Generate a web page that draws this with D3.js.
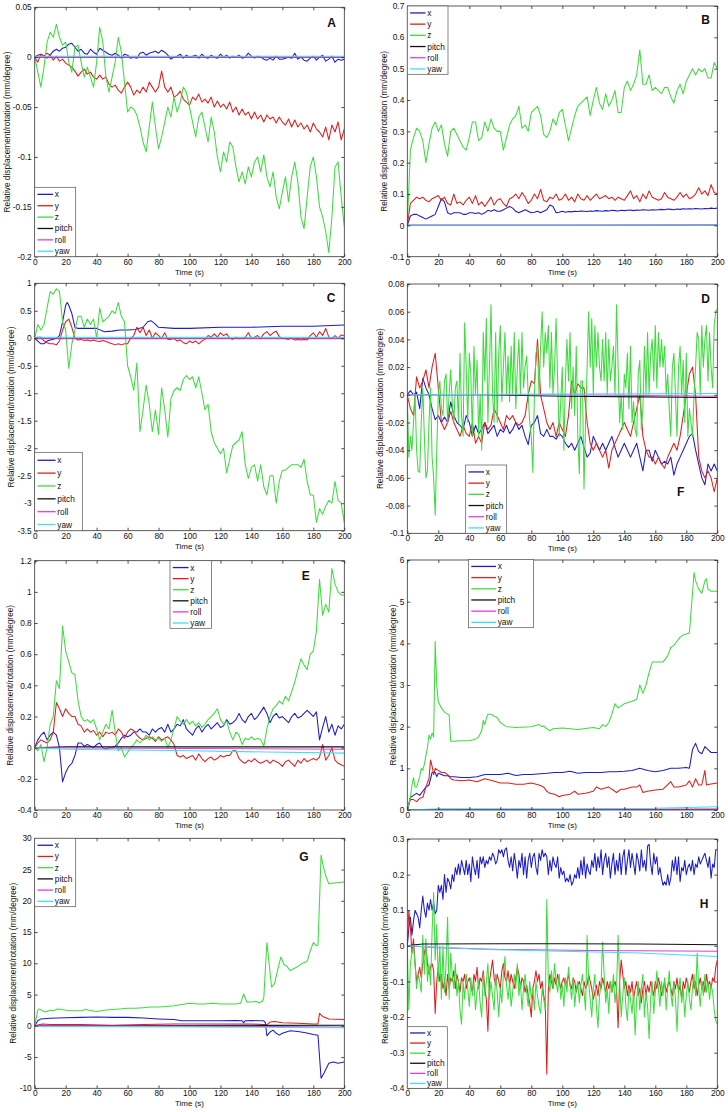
<!DOCTYPE html>
<html><head><meta charset="utf-8">
<script src="https://cdn.jsdelivr.net/npm/d3@7"></script>
<style>
body{margin:0;background:#fff}
svg{display:block}
text{font-family:"Liberation Sans",Arial,sans-serif;fill:#111}
</style>
</head><body>
<svg id="chart" width="728" height="1112"></svg>
<script>
// ---------------- DATA ----------------
// Arrays of plain numbers are equally spaced samples over 0..200 s.
// Arrays of [t, v] pairs give explicit times.
const seriesNames = ["x","y","z","pitch","roll","yaw"];
const xTicks = [0,20,40,60,80,100,120,140,160,180,200];

const yTicksA = [0.05,0,-0.05,-0.1,-0.15,-0.2];
const yTicksB = [0.7,0.6,0.5,0.4,0.3,0.2,0.1,0,-0.1];
const yTicksC = [1,0.5,0,-0.5,-1,-1.5,-2,-2.5,-3,-3.5];
const yTicksD = [0.08,0.06,0.04,0.02,0,-0.02,-0.04,-0.06,-0.08,-0.1];
const yTicksE = [1.2,1,0.8,0.6,0.4,0.2,0,-0.2,-0.4];
const yTicksF = [6,5,4,3,2,1,0];
const yTicksG = [30,25,20,15,10,5,0,-5,-10];
const yTicksH = [0.3,0.2,0.1,0,-0.1,-0.2,-0.3,-0.4];

// Panel A
const A_x = [0,0.002,0.003,0.001,-0.001,0.002,0.006,0.008,0.006,0.009,
0.01,0.013,0.014,0.01,0.006,0.008,0.004,0.003,0.008,0.005,
0.003,0.009,0.007,0.005,0.003,0.002,0.004,0.002,-0.001,0.003,
0.002,-0.001,0,-0.001,0.004,0.005,0.002,0.004,0.005,0.006,
0.004,0.007,0.005,0.002,-0.002,0,0.001,0.003,-0.001,0.002,
0,0.001,0.002,-0.001,0.003,0,-0.001,0.002,0,-0.001,
0.003,0,0.002,-0.001,0.001,0,0.002,-0.001,0,0.004,
0.001,-0.001,0.001,0,-0.002,-0.003,-0.001,-0.003,0.001,-0.002,
-0.002,-0.001,0,-0.001,0.004,-0.002,0,-0.003,-0.004,-0.001,
0.001,-0.003,0,0.002,-0.004,-0.002,0.001,-0.005,-0.002,-0.003,
-0.002];
const A_y = [0,-0.005,0.003,0.001,0.004,0.002,-0.003,0.001,-0.004,-0.002,
-0.006,-0.008,-0.01,-0.014,-0.019,-0.015,-0.012,-0.017,-0.015,-0.02,
-0.022,-0.018,-0.022,-0.02,-0.027,-0.03,-0.028,-0.033,-0.036,-0.03,
-0.025,-0.03,-0.038,-0.033,-0.036,-0.03,-0.035,-0.025,-0.03,-0.035,
-0.03,-0.014,-0.03,-0.035,-0.03,-0.04,-0.038,-0.034,-0.042,-0.045,
-0.048,-0.04,-0.043,-0.037,-0.045,-0.042,-0.046,-0.04,-0.05,-0.044,
-0.05,-0.047,-0.052,-0.045,-0.055,-0.05,-0.058,-0.052,-0.058,-0.055,
-0.062,-0.055,-0.062,-0.058,-0.065,-0.058,-0.062,-0.06,-0.066,-0.06,
-0.065,-0.068,-0.062,-0.07,-0.063,-0.07,-0.066,-0.072,-0.068,-0.075,
-0.066,-0.072,-0.075,-0.08,-0.07,-0.083,-0.068,-0.075,-0.065,-0.083,
-0.072];
const A_z = [0,-0.015,-0.03,-0.01,0.015,0.025,0.02,0.033,0.02,0.012,
0.015,-0.005,-0.015,0.01,0.012,-0.005,-0.02,-0.01,-0.02,-0.03,
-0.005,0.03,0.015,-0.02,-0.035,-0.02,-0.005,0.02,0.005,-0.025,
-0.055,-0.05,-0.052,-0.058,-0.07,-0.085,-0.095,-0.07,-0.045,-0.07,
-0.092,-0.08,-0.065,-0.05,-0.06,-0.04,-0.055,-0.045,-0.03,-0.035,
-0.05,-0.065,-0.08,-0.06,-0.055,-0.07,-0.085,-0.06,-0.075,-0.1,
-0.115,-0.095,-0.105,-0.085,-0.09,-0.11,-0.125,-0.115,-0.127,-0.11,
-0.12,-0.105,-0.1,-0.115,-0.098,-0.12,-0.13,-0.115,-0.14,-0.152,
-0.135,-0.12,-0.145,-0.12,-0.105,-0.125,-0.16,-0.172,-0.14,-0.11,
-0.1,-0.12,-0.15,-0.16,-0.175,-0.196,-0.16,-0.11,-0.105,-0.14,
-0.17];
const A_pitch = [[0,0],[100,0],[200,0]];
const A_roll = [[0,0],[100,0],[200,0]];
const A_yaw = [[0,0.001],[100,0.001],[200,0.001]];

// Panel B
const B_x = [0,0.03,0.035,0.035,0.03,0.025,0.02,0.025,0.03,0.035,
0.06,0.085,0.075,0.04,0.035,0.04,0.04,0.04,0.035,0.035,
0.04,0.04,0.038,0.04,0.035,0.04,0.048,0.045,0.05,0.045,
0.045,0.05,0.055,0.06,0.055,0.045,0.04,0.045,0.05,0.045,
0.04,0.042,0.045,0.04,0.045,0.05,0.065,0.06,0.04,0.042,
0.045,0.042,0.044,0.043,0.045,0.044,0.046,0.045,0.044,0.046,
0.045,0.047,0.046,0.045,0.047,0.046,0.048,0.047,0.046,0.048,
0.047,0.048,0.049,0.047,0.049,0.048,0.05,0.049,0.048,0.05,
0.049,0.05,0.051,0.05,0.052,0.051,0.05,0.052,0.051,0.053,
0.052,0.053,0.052,0.054,0.053,0.052,0.054,0.053,0.055,0.054,
0.055];
const B_y = [0,0.07,0.08,0.09,0.085,0.09,0.08,0.075,0.085,0.09,
0.095,0.08,0.09,0.07,0.065,0.1,0.07,0.075,0.065,0.08,
0.09,0.07,0.095,0.065,0.075,0.06,0.075,0.09,0.065,0.08,
0.085,0.07,0.06,0.085,0.09,0.1,0.085,0.105,0.09,0.07,
0.08,0.1,0.085,0.115,0.08,0.075,0.09,0.085,0.1,0.08,
0.085,0.1,0.08,0.09,0.075,0.1,0.085,0.08,0.095,0.08,
0.09,0.1,0.085,0.09,0.095,0.085,0.09,0.08,0.09,0.085,
0.08,0.095,0.11,0.085,0.095,0.075,0.1,0.085,0.11,0.09,
0.085,0.08,0.085,0.105,0.09,0.085,0.08,0.09,0.105,0.09,
0.1,0.085,0.09,0.1,0.12,0.1,0.11,0.095,0.13,0.105,
0.1];
const B_z = [0,0.24,0.28,0.31,0.3,0.27,0.2,0.26,0.31,0.33,
0.3,0.32,0.26,0.22,0.3,0.31,0.29,0.27,0.25,0.24,
0.28,0.33,0.33,0.27,0.28,0.33,0.3,0.34,0.31,0.3,
0.3,0.24,0.28,0.32,0.34,0.35,0.38,0.31,0.32,0.3,
0.36,0.37,0.38,0.35,0.29,0.28,0.3,0.34,0.32,0.36,
0.37,0.32,0.27,0.31,0.35,0.38,0.39,0.4,0.41,0.35,
0.4,0.44,0.39,0.37,0.42,0.38,0.4,0.43,0.36,0.36,
0.44,0.46,0.43,0.45,0.48,0.56,0.45,0.45,0.48,0.43,
0.44,0.43,0.42,0.44,0.44,0.41,0.39,0.43,0.45,0.42,
0.46,0.48,0.5,0.48,0.5,0.49,0.5,0.47,0.47,0.52,
0.5];
const B_pitch = [[0,0],[100,0],[200,0.001]];
const B_roll = [[0,0],[100,0],[200,0]];
const B_yaw = [[0,0.001],[100,0.001],[200,0.001]];

// Panel C
const C_x = [[0,0],[2,-0.05],[4,-0.1],[6,-0.1],[8,-0.05],[10,-0.03],[12,-0.02],[14,0],[16,0.05],[18,0.3],[20,0.6],[21,0.65],[22,0.6],[24,0.45],[26,0.2],[28,0.18],[40,0.18],[45,0.12],[50,0.13],[55,0.15],[60,0.15],[65,0.16],[70,0.2],[73,0.3],[75,0.32],[77,0.28],[80,0.2],[90,0.18],[100,0.18],[120,0.2],[140,0.2],[160,0.22],[180,0.22],[200,0.24]];
const C_y = [0,0.02,0.02,-0.05,-0.08,-0.1,-0.1,-0.12,-0.05,0.15,
0.3,0.35,0.2,0,-0.03,-0.02,-0.04,-0.03,-0.05,-0.03,
-0.05,-0.06,-0.04,-0.06,-0.08,-0.1,-0.12,-0.1,-0.12,-0.1,
-0.1,0,0.05,0.2,0.1,0.2,0.05,0.15,0,0.1,
0.05,0,0.1,-0.02,-0.02,0,-0.05,-0.03,-0.08,-0.1,
-0.05,-0.08,-0.05,-0.1,-0.05,-0.02,0.05,0.02,0.08,0.02,
0.1,0.05,0.08,0,-0.02,0.02,-0.01,0,0.02,0.1,
0,0.02,0.05,0,0.08,0.12,0.05,0.1,0.13,0.03,
0,-0.01,-0.02,0,-0.03,-0.02,-0.03,-0.02,-0.03,0.05,
0.1,0.02,0.12,0.05,0.18,0.02,0,0.05,0,0.06,
0.05];
const C_z = [0,0.25,0.15,0.25,0.55,0.85,0.8,0.9,0.85,0.3,
0.15,-0.55,-0.1,0.15,0.4,0.4,0.2,0.35,0.25,0.35,
0,0.55,0.3,0.35,0.4,0.5,0.45,0.65,0.4,0.3,
-0.5,-0.7,-0.95,-0.45,-1.7,-1.3,-0.85,-1.2,-1.7,-1.3,
-1.75,-0.9,-1.3,-1.8,-1.1,-0.95,-0.9,-0.95,-0.75,-0.68,
-0.75,-0.7,-0.9,-0.7,-1,-1.3,-1.2,-1.7,-1.9,-2,
-2.1,-2,-2.45,-2.2,-1.95,-1.9,-1.85,-1.7,-2.3,-2.55,
-2.35,-2.3,-2.6,-2.3,-2.7,-2.85,-2.5,-2.5,-3,-2.6,
-2.4,-2.4,-2.35,-2.3,-2.3,-2.3,-2.35,-2.2,-2.6,-2.85,
-2.85,-3.35,-3.1,-3.2,-3.05,-2.95,-3,-2.6,-2.95,-3,
-3.35];
const C_pitch = [[0,0],[100,0],[200,0]];
const C_roll = [[0,-0.01],[100,-0.01],[200,-0.01]];
const C_yaw = [[0,0.02],[100,0.02],[200,0.02]];

// Panel D
const D_x = [0,0.003,0,0.002,-0.01,0.012,0.005,0,-0.01,-0.018,
-0.015,-0.02,-0.016,-0.02,-0.005,-0.015,-0.02,-0.022,-0.025,-0.015,
-0.02,-0.03,-0.022,-0.028,-0.025,-0.02,-0.028,-0.025,-0.022,-0.03,
-0.025,-0.027,-0.022,-0.028,-0.025,-0.02,-0.025,-0.022,-0.03,-0.036,
-0.022,-0.02,-0.015,-0.028,-0.03,-0.025,-0.03,-0.03,-0.032,-0.028,
-0.03,-0.035,-0.038,-0.035,-0.04,-0.035,-0.03,-0.038,-0.045,-0.042,
-0.03,-0.035,-0.04,-0.035,-0.04,-0.035,-0.03,-0.038,-0.045,-0.04,
-0.035,-0.04,-0.045,-0.04,-0.035,-0.045,-0.055,-0.04,-0.04,-0.048,
-0.04,-0.045,-0.05,-0.048,-0.05,-0.045,-0.058,-0.05,-0.045,-0.04,
-0.035,-0.03,-0.028,-0.04,-0.05,-0.06,-0.065,-0.05,-0.055,-0.05,
-0.055];
const D_y = [0,-0.01,-0.015,0.013,0.005,0.01,0.018,0.005,0.02,0.03,
0.005,-0.02,-0.025,-0.02,-0.012,-0.02,-0.025,-0.03,-0.022,-0.028,
-0.03,-0.02,-0.035,-0.03,-0.035,-0.02,-0.025,-0.022,-0.01,-0.015,
-0.02,-0.025,-0.015,-0.018,-0.015,-0.02,-0.022,-0.02,-0.015,0,
0.01,0.008,0.04,0,-0.01,-0.02,-0.025,-0.02,-0.03,-0.02,
-0.025,-0.03,-0.015,0.01,0,0.008,0.005,0.005,-0.02,-0.035,
-0.04,-0.035,-0.04,-0.045,-0.04,-0.053,-0.04,-0.035,-0.03,-0.025,
-0.02,-0.025,-0.03,-0.02,-0.01,0,-0.03,-0.04,-0.045,-0.045,
-0.05,-0.045,-0.05,-0.053,-0.045,-0.04,-0.035,-0.04,-0.03,-0.015,
0,0.015,0.02,0,-0.045,-0.055,-0.06,-0.055,-0.06,-0.07,
-0.06];
const D_z = [0,-0.045,-0.03,-0.04,-0.02,0,-0.04,-0.055,-0.056,-0.02,
0.005,-0.03,-0.06,-0.055,-0.02,0.005,-0.045,-0.06,-0.087,-0.04,
0,0.01,-0.01,-0.015,0.01,0.015,-0.02,0,0.018,-0.005,
-0.02,0.005,0.01,-0.02,0.03,-0.015,-0.03,0.052,0.02,-0.02,
0.03,0.015,-0.03,0.035,0,0.025,-0.03,0,-0.04,0.045,
0.01,0.055,-0.02,0.02,0.065,0,-0.02,0.045,-0.02,0.03,
0.05,-0.005,0.02,0.045,0,0.028,-0.005,0.035,0,0.045,
-0.01,0.02,0.04,0,0.045,0.005,0.02,0.028,0,-0.02,
-0.03,-0.056,0,0.03,0.035,0,0.035,0.06,0.02,0.045,
0.03,0.05,0.005,0.045,0,0.02,0.055,0.01,-0.03,-0.005,
0.02,-0.04,0.01,0.04,0.01,0.045,-0.01,0.02,-0.015,0.035,
-0.03,-0.057,0.01,0.01,-0.068,-0.02,0.02,0.06,0.02,0.055,
0,0.05,0.02,0.045,0.02,0.01,0.04,0.01,0.045,0,
0.04,0.01,0.02,0.035,0,0.065,0.02,-0.02,0,-0.025,
0.015,0.005,0.03,-0.01,0.035,-0.02,-0.005,-0.025,-0.03,0.015,
0.025,-0.025,-0.01,0.035,0,0.045,0,0.03,0.04,0.01,
0.05,0.005,0.045,0.02,0.04,0.02,0.035,0,0.015,-0.01,
-0.03,0.02,0.03,0,-0.03,0.02,0.035,0,0.025,-0.02,
0.03,-0.03,-0.01,-0.02,-0.03,0,0.02,0.045,0.04,0,
0.05,0.02,0.04,0.05,0.01,0.045,0.02,0.005,0.05,0.06,
0.062];
const D_pitch = [[0,0],[50,0],[100,-0.001],[150,-0.0015],[200,-0.002]];
const D_roll = [[0,0],[100,0],[200,-0.001]];
const D_yaw = [[0,0],[100,0.0005],[200,0.001]];

// Panel E
const E_x = [0,0.05,0.08,0.1,0.05,0.08,0.1,0.08,0,-0.22,
-0.16,-0.12,-0.1,-0.05,0.03,0.03,0.01,0.02,0.01,0,
0.02,0.03,0,-0.01,0,0,0.01,0.03,0.06,0.08,
0.07,0.08,0.1,0.1,0.12,0.1,0.1,0.08,0.12,0.1,
0.12,0.13,0.1,0.15,0.1,0.12,0.15,0.14,0.18,0.12,
0.1,0.08,0.12,0.14,0.1,0.13,0.15,0.12,0.14,0.16,
0.13,0.14,0.18,0.15,0.16,0.18,0.22,0.18,0.16,0.2,
0.22,0.18,0.2,0.23,0.26,0.22,0.16,0.2,0.22,0.19,
0.2,0.18,0.16,0.2,0.22,0.19,0.2,0.22,0.24,0.22,
0.2,0.23,0.05,0.13,0.2,0.1,0.15,0.08,0.14,0.12,
0.15];
const E_y = [0,0.03,0.05,0.04,0.03,0.05,0.1,0.29,0.25,0.2,
0.25,0.22,0.2,0.2,0.15,0.14,0.1,0.12,0.1,0.11,
0.08,0.1,0.07,0.1,0.09,0.1,0.08,0.12,0.1,0.06,
0.1,0.12,0.11,0.08,0.06,0.05,0.06,0.07,0.06,0.04,
0.07,0.05,0.06,0.07,0.05,0.02,-0.05,-0.06,-0.05,-0.07,
-0.06,-0.05,-0.08,-0.04,-0.07,-0.09,-0.07,-0.06,-0.08,-0.07,
-0.05,-0.06,-0.05,-0.05,-0.02,-0.02,-0.07,-0.09,-0.1,-0.08,
-0.09,-0.07,-0.09,-0.1,-0.09,-0.08,-0.1,-0.08,-0.09,-0.1,
-0.12,-0.09,-0.08,-0.1,-0.12,-0.08,-0.1,-0.07,-0.09,-0.08,
-0.07,-0.08,-0.06,0.02,-0.08,-0.05,0,-0.08,-0.1,-0.11,
-0.12];
const E_z = [0,-0.02,0.02,-0.09,0,0.15,0.2,0.43,0.38,0.78,
0.62,0.55,0.48,0.47,0.3,0.2,0.17,0.18,0.16,0.18,
0.12,0.05,0.1,0.15,0.12,0.24,0.1,-0.02,0,-0.06,
-0.03,0,0.02,0.05,0.03,0.05,0.08,0.05,0.07,0.05,
0.06,0.04,0.06,0,0.05,0.12,0.2,0.17,0.15,0.18,
0.15,0.17,0.14,0.16,0.13,0.15,0.18,0.2,0.22,0.25,
0.18,0.15,0.17,0.1,0.05,0.1,0.08,0.02,0.06,0.05,
0.07,0.05,0.06,0.05,0.01,0.12,0.2,0.25,0.27,0.3,
0.28,0.33,0.3,0.36,0.42,0.5,0.57,0.53,0.5,0.6,
0.62,0.75,1.08,0.85,0.92,0.87,1.15,1.05,1,0.98,
0.98];
const E_pitch = [[0,0],[20,0.005],[100,0.005],[200,0.005]];
const E_roll = [[0,0],[100,-0.005],[200,-0.01]];
const E_yaw = [[0,0],[20,-0.01],[60,-0.015],[100,-0.02],[150,-0.028],[200,-0.035]];

// Panel F
const F_x = [[0,0],[2,0.3],[4,0.35],[6,0.4],[8,0.35],[10,0.45],[12,0.55],[14,0.6],[16,0.9],[18,0.9],[19,0.8],[20,0.88],[22,0.85],[24,0.82],[26,0.82],[28,0.8],[30,0.8],[35,0.78],[40,0.78],[45,0.8],[50,0.85],[55,0.85],[60,0.85],[65,0.88],[70,0.83],[75,0.85],[80,0.85],[90,0.88],[95,0.9],[100,0.9],[105,0.93],[110,0.88],[115,0.9],[120,0.9],[125,0.9],[130,0.92],[135,0.92],[140,0.93],[145,0.95],[150,1.0],[155,0.95],[160,0.92],[165,0.95],[170,1.0],[175,1.0],[180,1.02],[182,1.0],[184,1.45],[186,1.6],[188,1.4],[190,1.35],[192,1.52],[194,1.45],[196,1.38],[200,1.38]];
const F_y = [[0,0],[2,0.25],[4,0.25],[6,0.2],[8,0.28],[10,0.3],[12,0.55],[14,0.75],[15,1.2],[16,1.05],[17,0.85],[18,1.0],[20,0.95],[22,0.9],[24,0.9],[26,0.85],[28,0.75],[30,0.72],[35,0.7],[40,0.72],[45,0.68],[50,0.75],[55,0.7],[60,0.65],[65,0.65],[70,0.62],[75,0.62],[80,0.65],[85,0.6],[88,0.55],[90,0.45],[92,0.4],[95,0.38],[98,0.32],[100,0.35],[105,0.38],[108,0.45],[110,0.38],[115,0.4],[120,0.45],[122,0.55],[125,0.5],[130,0.55],[135,0.42],[138,0.5],[140,0.5],[145,0.55],[148,0.55],[150,0.6],[152,0.42],[155,0.45],[160,0.48],[165,0.5],[170,0.68],[172,0.55],[175,0.55],[180,0.6],[182,0.7],[184,0.55],[186,0.75],[188,0.6],[190,0.6],[192,0.95],[193,0.6],[195,0.62],[200,0.65]];
const F_z = [[0,0],[2,0.3],[3,0.6],[4,0.78],[5,0.55],[6,0.55],[8,0.8],[9,1.0],[10,0.95],[11,1.1],[12,1.3],[13,1.5],[14,1.8],[15,1.7],[16,1.85],[17,1.75],[18,4.05],[19,3.0],[20,2.6],[22,2.45],[24,2.35],[26,2.3],[27,2.28],[28,1.65],[30,1.65],[35,1.66],[40,1.66],[44,1.7],[46,1.75],[48,1.9],[49,2.15],[50,2.05],[51,2.2],[52,2.3],[54,2.3],[56,2.25],[58,2.22],[60,2.1],[62,2.05],[64,2.0],[70,1.98],[80,2.0],[85,2.05],[87,2.0],[88,2.02],[90,1.95],[92,1.9],[94,1.95],[100,1.97],[110,1.93],[120,1.98],[124,1.95],[126,2.05],[128,2.0],[130,2.1],[132,2.3],[134,2.55],[136,2.45],[138,2.5],[140,2.55],[144,2.6],[148,2.65],[150,3.0],[152,2.8],[154,3.0],[156,3.3],[158,3.55],[160,3.55],[165,3.55],[168,3.7],[170,3.9],[172,3.95],[174,4.05],[176,4.15],[178,4.2],[182,4.25],[184,5.2],[185,5.7],[186,5.5],[188,5.3],[190,5.2],[192,5.5],[193,5.55],[194,5.3],[196,5.25],[200,5.25]];
const F_pitch = [[0,0],[100,0.01],[200,0.02]];
const F_roll = [[0,0],[100,0.01],[200,0.02]];
const F_yaw = [[0,0],[20,0.03],[100,0.03],[160,0.04],[200,0.08]];

// Panel G
const G_x = [[0,0],[2,0.8],[4,1.1],[10,1.2],[20,1.3],[30,1.35],[40,1.4],[50,1.35],[60,1.35],[70,1.25],[80,1.1],[90,1.0],[95,0.8],[100,0.8],[110,0.8],[120,0.8],[130,0.85],[134,0.8],[135,0.5],[136,0.8],[140,0.85],[145,0.8],[148,0.8],[149,0.5],[150,-1.6],[152,-1.0],[154,-0.7],[156,-1.2],[158,-1.5],[160,-1.2],[165,-0.8],[170,-0.9],[175,-1.1],[180,-1.4],[183,-1.5],[185,-8.4],[187,-7.5],[190,-6.0],[193,-5.8],[196,-6.0],[200,-5.8]];
const G_y = [[0,0],[5,0.3],[10,0.2],[30,0.2],[50,0.1],[70,0.2],[90,0.3],[110,0.3],[130,0.3],[140,0.3],[148,0.2],[150,0.2],[152,0.6],[155,0.7],[160,0.5],[170,0.4],[180,0.3],[183,0.3],[184,2.0],[186,1.5],[190,1.1],[200,1.0]];
const G_z = [[0,0],[2,2.5],[3,2.7],[5,2.4],[7,2.2],[10,2.5],[12,2.4],[15,2.7],[18,2.6],[20,2.5],[25,2.4],[30,2.4],[33,2.6],[35,2.5],[40,2.3],[45,2.5],[50,2.6],[55,2.7],[60,2.8],[65,2.8],[70,2.9],[75,3.0],[80,3.0],[85,3.1],[90,3.2],[95,3.4],[100,3.6],[105,3.5],[110,3.5],[115,3.6],[120,3.5],[125,3.5],[130,3.5],[133,3.6],[135,5.1],[137,3.8],[140,3.8],[143,3.9],[145,3.7],[147,3.9],[148,4.5],[149,9],[150,13.3],[151,11],[153,6.2],[155,6.8],[157,9],[159,11],[161,9.8],[163,9.5],[165,8.8],[167,9.1],[170,9.5],[173,10],[176,10.3],[178,12],[180,13.3],[182,12.8],[183,13],[184,20],[185,27.3],[186,26],[188,24],[190,22.7],[192,22.8],[195,22.9],[200,23]];
const G_pitch = [[0,0],[100,0.05],[200,0.1]];
const G_roll = [[0,0],[150,-0.1],[200,-0.2]];
const G_yaw = [[0,-0.1],[100,-0.2],[200,-0.3]];

// Panel H
const H_x = [0,0.05,0.08,0.03,0.07,0.1,0.09,0.08,0.05,0.1,
0.14,0.1,0.08,0.12,0.1,0.13,0.1,0.12,0.09,0.1,
0.17,0.15,0.17,0.13,0.2,0.15,0.19,0.18,0.16,0.2,
0.18,0.22,0.2,0.23,0.2,0.24,0.22,0.2,0.24,0.2,
0.23,0.18,0.25,0.22,0.2,0.24,0.19,0.25,0.23,0.25,
0.22,0.24,0.23,0.25,0.24,0.26,0.25,0.23,0.24,0.27,
0.26,0.27,0.25,0.27,0.275,0.24,0.22,0.25,0.21,0.26,
0.23,0.19,0.24,0.22,0.26,0.2,0.25,0.19,0.24,0.26,
0.22,0.25,0.26,0.22,0.2,0.26,0.24,0.27,0.25,0.26,
0.25,0.2,0.24,0.21,0.25,0.23,0.22,0.25,0.19,0.22,
0.2,0.21,0.18,0.19,0.18,0.2,0.17,0.18,0.2,0.19,
0.22,0.19,0.24,0.2,0.25,0.19,0.23,0.21,0.2,0.24,
0.22,0.26,0.21,0.25,0.22,0.27,0.2,0.24,0.26,0.22,
0.25,0.19,0.23,0.26,0.2,0.24,0.21,0.26,0.2,0.25,
0.27,0.2,0.24,0.27,0.22,0.26,0.23,0.2,0.26,0.24,
0.21,0.27,0.22,0.24,0.21,0.28,0.285,0.23,0.2,0.26,
0.23,0.25,0.2,0.22,0.19,0.17,0.18,0.17,0.2,0.17,
0.19,0.24,0.21,0.25,0.2,0.25,0.18,0.22,0.21,0.24,
0.2,0.22,0.23,0.21,0.24,0.2,0.23,0.22,0.25,0.23,
0.24,0.25,0.26,0.24,0.22,0.25,0.19,0.23,0.22,0.27,
0.27];
const H_y = [0,0.1,0.05,-0.02,0.02,-0.05,-0.1,-0.08,-0.06,-0.09,
-0.05,-0.02,0,-0.05,-0.08,-0.06,-0.05,-0.07,-0.19,-0.1,
-0.06,-0.1,-0.08,-0.12,-0.1,-0.14,-0.08,-0.12,-0.09,-0.1,
-0.07,-0.12,-0.08,-0.1,-0.13,-0.09,-0.1,-0.08,-0.12,-0.1,
-0.09,-0.11,-0.13,-0.08,-0.1,-0.06,-0.12,-0.09,-0.1,-0.07,
-0.12,-0.15,-0.24,-0.1,-0.07,-0.04,-0.09,-0.11,-0.08,-0.1,
-0.12,-0.07,-0.05,-0.09,-0.1,-0.07,-0.11,-0.08,-0.1,-0.12,
-0.09,-0.06,-0.08,-0.12,-0.09,-0.1,-0.13,-0.11,-0.14,-0.16,
-0.2,-0.12,-0.1,-0.07,-0.1,-0.08,-0.12,-0.1,-0.14,-0.16,
-0.36,-0.12,-0.08,-0.1,-0.12,-0.09,-0.11,-0.08,-0.1,-0.12,
-0.1,-0.09,-0.11,-0.1,-0.08,-0.11,-0.12,-0.09,-0.1,-0.13,
-0.11,-0.1,-0.12,-0.14,-0.1,-0.12,-0.11,-0.08,-0.1,-0.12,
-0.15,-0.13,-0.11,-0.14,-0.1,-0.12,-0.09,-0.11,-0.13,-0.1,
-0.12,-0.1,-0.13,-0.11,-0.1,-0.12,-0.23,-0.1,-0.04,-0.08,
-0.12,-0.1,-0.14,-0.11,-0.13,-0.1,-0.15,-0.12,-0.1,-0.14,
-0.12,-0.16,-0.12,-0.1,-0.14,-0.11,-0.13,-0.1,-0.12,-0.14,
-0.1,-0.12,-0.09,-0.11,-0.14,-0.12,-0.1,-0.13,-0.11,-0.1,
-0.12,-0.14,-0.1,-0.12,-0.09,-0.13,-0.11,-0.15,-0.1,-0.12,
-0.09,-0.11,-0.13,-0.1,-0.08,-0.12,-0.1,-0.14,-0.11,-0.09,
-0.12,-0.1,-0.13,-0.08,-0.11,-0.1,-0.12,-0.09,-0.1,-0.06,
-0.04];
const H_z = [0,-0.18,-0.05,-0.02,0,-0.05,-0.12,-0.08,-0.1,-0.13,
0.03,-0.08,0.02,-0.1,-0.05,-0.11,0.04,0.15,-0.04,0.06,
-0.1,0,-0.15,0,-0.13,-0.05,0.08,-0.15,-0.02,-0.08,
-0.12,-0.05,-0.14,-0.1,-0.18,-0.22,-0.1,-0.15,-0.08,-0.12,
-0.17,-0.09,-0.14,-0.1,-0.18,-0.13,-0.1,-0.16,-0.2,-0.08,
-0.14,-0.1,-0.05,-0.15,-0.1,-0.14,-0.18,-0.08,-0.13,-0.2,
-0.12,-0.16,-0.08,-0.03,-0.11,-0.15,-0.1,-0.17,-0.13,-0.08,
-0.12,-0.05,-0.14,-0.1,-0.18,-0.12,-0.08,-0.13,-0.17,-0.1,
-0.15,-0.12,-0.18,-0.1,-0.14,-0.17,-0.19,-0.12,-0.15,-0.18,
0.13,-0.1,-0.13,-0.07,-0.12,-0.05,-0.1,-0.13,-0.08,-0.15,
-0.11,-0.17,-0.09,-0.13,-0.06,-0.11,-0.15,-0.09,-0.17,-0.12,
-0.1,-0.16,-0.11,-0.08,-0.13,-0.18,0.03,-0.1,-0.15,-0.2,
-0.12,-0.08,-0.17,-0.23,-0.14,-0.11,0.01,-0.08,-0.16,-0.12,
-0.19,-0.1,-0.13,-0.08,-0.16,-0.12,0.03,-0.1,-0.2,-0.14,
-0.09,-0.17,-0.21,-0.12,-0.15,-0.19,-0.13,-0.25,-0.15,-0.1,
-0.18,-0.12,-0.08,-0.2,-0.13,-0.17,-0.26,-0.15,-0.1,-0.19,
-0.13,-0.07,-0.12,-0.17,-0.1,-0.14,-0.09,-0.18,-0.12,-0.07,
-0.13,-0.17,-0.1,-0.15,-0.24,-0.12,-0.09,-0.16,-0.12,-0.2,
-0.14,-0.1,-0.15,-0.18,-0.12,-0.08,-0.14,-0.02,-0.12,-0.17,
-0.1,-0.14,-0.08,-0.13,-0.1,-0.15,-0.11,-0.13,-0.18,-0.21,
-0.22];
const H_pitch = [[0,0],[5,0.003],[10,0.005],[60,0.006],[100,0.006],[150,0.005],[200,0.003]];
const H_roll = [[0,0],[20,-0.005],[60,-0.01],[120,-0.013],[200,-0.015]];
const H_yaw = [[0,0],[50,-0.01],[100,-0.015],[150,-0.02],[200,-0.03]];

// ---------------- STYLE / LAYOUT ----------------
const colors = {x:"#1c1cc8", y:"#e01e1e", z:"#3ddc3d", pitch:"#111111", roll:"#e23ce2", yaw:"#3ee0ea"};
const T_MAX = 200;

const panels = [
 {id:"A", data:{x:A_x,y:A_y,z:A_z,pitch:A_pitch,roll:A_roll,yaw:A_yaw}, yTicks:yTicksA, ydom:[-0.2,0.05],
  box:{l:34.7,r:344.3,t:7.3,b:256.7}, ylab:7, leg:{x:34.7,y:187.3,w:41,h:69.4}, letter:{x:331.7,y:22.7,s:"A"}},
 {id:"B", data:{x:B_x,y:B_y,z:B_z,pitch:B_pitch,roll:B_roll,yaw:B_yaw}, yTicks:yTicksB, ydom:[-0.1,0.7],
  box:{l:407.3,r:717.3,t:6,b:256.7}, ylab:384, leg:{x:407.3,y:6,w:40.7,h:68.3}, letter:{x:705.7,y:19.5,s:"B"}},
 {id:"C", data:{x:C_x,y:C_y,z:C_z,pitch:C_pitch,roll:C_roll,yaw:C_yaw}, yTicks:yTicksC, ydom:[-3.5,1],
  box:{l:34.7,r:344.3,t:283.3,b:530.7}, ylab:10.5, leg:{x:34.7,y:452.3,w:47.6,h:78.4}, letter:{x:331,y:297.7,s:"C"}},
 {id:"D", data:{x:D_x,y:D_y,z:D_z,pitch:D_pitch,roll:D_roll,yaw:D_yaw}, yTicks:yTicksD, ydom:[-0.1,0.08],
  box:{l:407.3,r:717.3,t:284,b:533.3}, ylab:380, leg:{x:465.7,y:465,w:41,h:68.3}, letter:{x:705.7,y:299,s:"D"},
  letter2:{x:680.7,y:491.7,s:"F"}},
 {id:"E", data:{x:E_x,y:E_y,z:E_z,pitch:E_pitch,roll:E_roll,yaw:E_yaw}, yTicks:yTicksE, ydom:[-0.4,1.2],
  box:{l:34.7,r:344.3,t:560.7,b:810}, ylab:10, leg:{x:170,y:560.7,w:41.5,h:67.6}, letter:{x:305.7,y:575.7,s:"E"}},
 {id:"F", data:{x:F_x,y:F_y,z:F_z,pitch:F_pitch,roll:F_roll,yaw:F_yaw}, yTicks:yTicksF, ydom:[0,6],
  box:{l:407.3,r:717.3,t:560,b:810}, ylab:393, leg:{x:468.5,y:559.5,w:65,h:68.2}, letter:null},
 {id:"G", data:{x:G_x,y:G_y,z:G_z,pitch:G_pitch,roll:G_roll,yaw:G_yaw}, yTicks:yTicksG, ydom:[-10,30],
  box:{l:34.7,r:344.3,t:838.3,b:1088.3}, ylab:12.5, leg:{x:34.7,y:838.3,w:41,h:68.4}, letter:{x:304,y:857.3,s:"G"}},
 {id:"H", data:{x:H_x,y:H_y,z:H_z,pitch:H_pitch,roll:H_roll,yaw:H_yaw}, yTicks:yTicksH, ydom:[-0.4,0.3],
  box:{l:407.3,r:717.3,t:839,b:1088.3}, ylab:385, leg:{x:407.3,y:1026.7,w:40,h:61.6}, letter:{x:704,y:904.3,s:"H"}}
];

function toPoints(arr){
  if (Array.isArray(arr[0])) return arr.map(d => ({t:d[0], v:d[1]}));
  const n = arr.length;
  return arr.map((v,i) => ({t: i*T_MAX/(n-1), v:v}));
}

const svg = d3.select("#chart");
svg.append("rect").attr("width",728).attr("height",1112).attr("fill","#fff");

const tickFont = 8.3, labFont = 8, legFont = 8.3;

panels.forEach(p => {
  const b = p.box;
  const xs = d3.scaleLinear().domain([0,T_MAX]).range([b.l,b.r]);
  const ys = d3.scaleLinear().domain(p.ydom).range([b.b,b.t]);
  const g = svg.append("g");

  const clipId = "clip" + p.id;
  svg.append("clipPath").attr("id",clipId).append("rect")
    .attr("x",b.l).attr("y",b.t).attr("width",b.r-b.l).attr("height",b.b-b.t);

  const line = d3.line().x(d => xs(d.t)).y(d => ys(d.v)).curve(d3.curveLinear);
  const lg = g.append("g").attr("clip-path","url(#"+clipId+")");
  seriesNames.forEach(s => {
    lg.append("path").datum(toPoints(p.data[s]))
      .attr("d",line).attr("fill","none").attr("stroke",colors[s])
      .attr("stroke-width",1.05).attr("stroke-linejoin","round");
  });

  // axes with inward ticks
  const fmt = v => String(v);
  const axB = g.append("g").attr("transform","translate(0,"+b.b+")")
    .call(d3.axisBottom(xs).tickValues(xTicks).tickSize(-3).tickSizeOuter(0).tickPadding(2).tickFormat(fmt));
  const axT = g.append("g").attr("transform","translate(0,"+b.t+")")
    .call(d3.axisTop(xs).tickValues(xTicks).tickSize(-3).tickSizeOuter(0).tickFormat(""));
  const axL = g.append("g").attr("transform","translate("+b.l+",0)")
    .call(d3.axisLeft(ys).tickValues(p.yTicks).tickSize(-3).tickSizeOuter(0).tickPadding(3).tickFormat(fmt));
  const axR = g.append("g").attr("transform","translate("+b.r+",0)")
    .call(d3.axisRight(ys).tickValues(p.yTicks).tickSize(-3).tickSizeOuter(0).tickFormat(""));
  [axB,axT,axL,axR].forEach(a => {
    a.select(".domain").remove();
    a.selectAll(".tick line").attr("stroke","#222").attr("stroke-width",0.8);
    a.selectAll("text").attr("font-size",tickFont).attr("fill","#1a1a1a")
      .attr("font-family","'Liberation Sans',Arial,sans-serif");
  });

  g.append("rect").attr("x",b.l).attr("y",b.t).attr("width",b.r-b.l).attr("height",b.b-b.t)
    .attr("fill","none").attr("stroke","#333").attr("stroke-width",0.8);

  // axis labels
  g.append("text").attr("x",(b.l+b.r)/2).attr("y",b.b+18)
    .attr("text-anchor","middle").attr("font-size",labFont).text("Time (s)");
  g.append("text").attr("transform","translate("+p.ylab+","+((b.t+b.b)/2)+") rotate(-90)")
    .attr("text-anchor","middle").attr("dominant-baseline","central")
    .attr("font-size",labFont+0.3).text("Relative displacement/rotation (mm/degree)");

  // legend
  const L = p.leg;
  const lgd = g.append("g");
  lgd.append("rect").attr("x",L.x).attr("y",L.y).attr("width",L.w).attr("height",L.h)
    .attr("fill","#fff").attr("stroke","#555").attr("stroke-width",0.7);
  const rowH = L.h/6.1;
  const lineLen = Math.min(L.w*0.38, 25);
  seriesNames.forEach((s,i) => {
    const yy = L.y + rowH*(0.62+i);
    lgd.append("line").attr("x1",L.x+2.8).attr("x2",L.x+2.8+lineLen).attr("y1",yy).attr("y2",yy)
      .attr("stroke",colors[s]).attr("stroke-width",1.3);
    lgd.append("text").attr("x",L.x+4.5+lineLen).attr("y",yy).attr("dominant-baseline","central")
      .attr("font-size",legFont).text(s);
  });

  [p.letter, p.letter2].forEach(lt => {
    if (!lt) return;
    g.append("text").attr("x",lt.x).attr("y",lt.y).attr("text-anchor","middle")
      .attr("dominant-baseline","central").attr("font-size",12).attr("font-weight","bold")
      .attr("fill","#000").text(lt.s);
  });
});
</script>
</body></html>
